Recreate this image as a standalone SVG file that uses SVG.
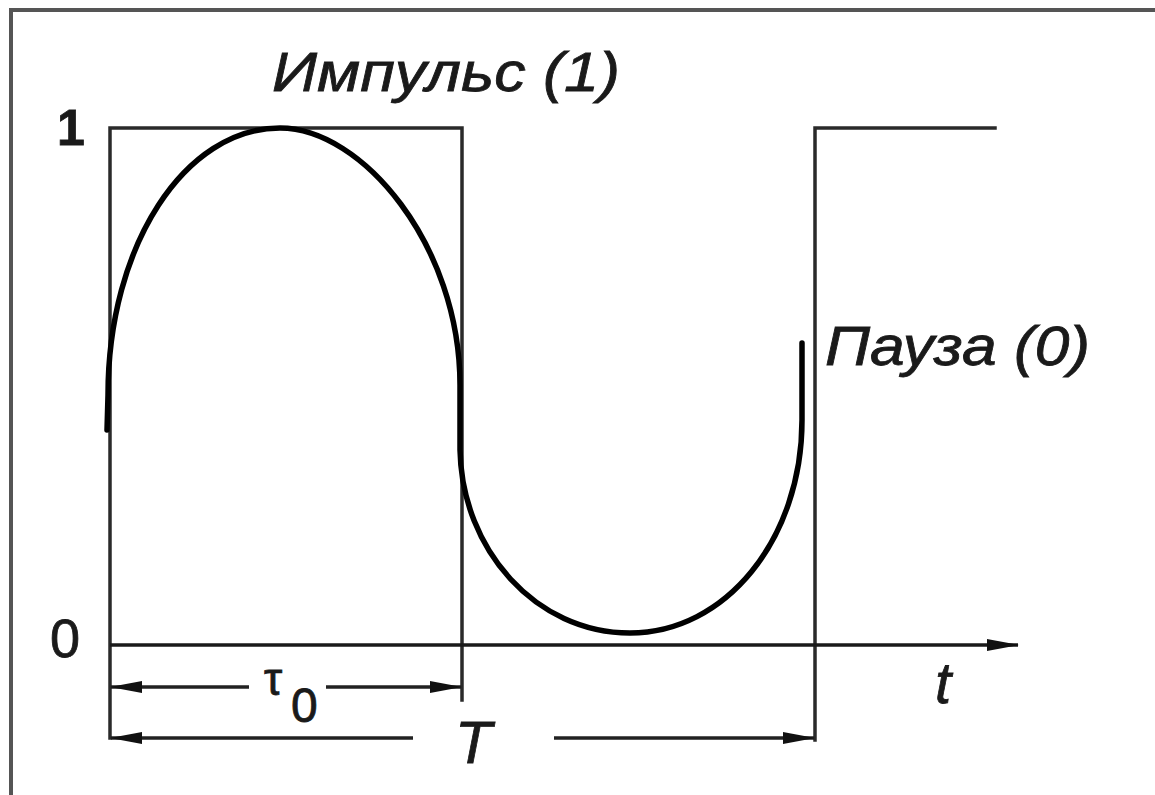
<svg xmlns="http://www.w3.org/2000/svg" width="1155" height="795" viewBox="0 0 1155 795">
  <style>
    .pulse { fill: none; stroke: #2a2a2a; stroke-width: 3.5; stroke-linecap: square; }
    .axis { fill: none; stroke: #1a1a1a; stroke-width: 3.5; }
    .curve { fill: none; stroke: #000; stroke-width: 5.5; stroke-linecap: round; stroke-linejoin: round; }
    .dim { fill: none; stroke: #222; stroke-width: 3.5; }
    .lbl { font-family: "Liberation Sans", Arial, sans-serif; fill: #1a1a1a; stroke: #1a1a1a; stroke-width: 0.8; }
    .it { font-style: italic; }
  </style>
  <defs>
    <marker id="ah" viewBox="0 0 32 12" refX="31" refY="6" markerWidth="32" markerHeight="12" markerUnits="userSpaceOnUse" orient="auto">
      <path d="M0,0 L32,6 L0,12 Z" fill="#111"/>
    </marker>
    <marker id="ahS" viewBox="0 0 32 12" refX="31" refY="6" markerWidth="32" markerHeight="12" markerUnits="userSpaceOnUse" orient="auto-start-reverse">
      <path d="M0,0 L32,6 L0,12 Z" fill="#111"/>
    </marker>
  </defs>
  <rect x="0" y="0" width="1155" height="795" fill="#ffffff"/>
  <g id="frame">
    <path d="M11,795 L11,10 L1155,10" fill="none" stroke="#555" stroke-width="4"/>
  </g>
  <g id="pulse1">
    <path class="pulse" d="M110,738 L110,128 L462,128 L462,700"/>
  </g>
  <g id="pulse2">
    <path class="pulse" d="M815,740 L815,128 L995,128"/>
  </g>
  <g id="sine">
    <path class="curve" d="M107,430 L108,395 C108,245 185,128 280,128 C362,128 460,245 460,385 L460,450 C462,550 536,633 630,633 C725,633 802,540 802,420 L802,343"/>
  </g>
  <g id="connectors">
    <line id="t-axis" class="axis" x1="110" y1="645" x2="1018" y2="645" marker-end="url(#ah)"/>
    <line class="dim" x1="111" y1="687" x2="249" y2="687" marker-start="url(#ahS)"/>
    <line class="dim" x1="326" y1="687" x2="461" y2="687" marker-end="url(#ah)"/>
    <line class="dim" x1="111" y1="738" x2="413" y2="738" marker-start="url(#ahS)"/>
    <line class="dim" x1="554" y1="738" x2="814" y2="738" marker-end="url(#ah)"/>
  </g>
  <g id="labels">
    <text class="lbl it" x="272" y="91" font-size="56" textLength="348" lengthAdjust="spacingAndGlyphs">Импульс (1)</text>
    <text class="lbl it" x="825" y="365" font-size="56" textLength="265" lengthAdjust="spacingAndGlyphs">Пауза (0)</text>
    <text class="lbl" x="57" y="145" font-size="50" font-weight="bold">1</text>
    <text class="lbl" x="50" y="657" font-size="54">0</text>
    <text class="lbl it" x="935" y="703" font-size="58">t</text>
    <text class="lbl" x="264" y="695" font-size="46">τ</text>
    <text class="lbl" x="291" y="722" font-size="48">0</text>
    <text class="lbl it" x="455" y="763" font-size="60">T</text>
  </g>
</svg>
